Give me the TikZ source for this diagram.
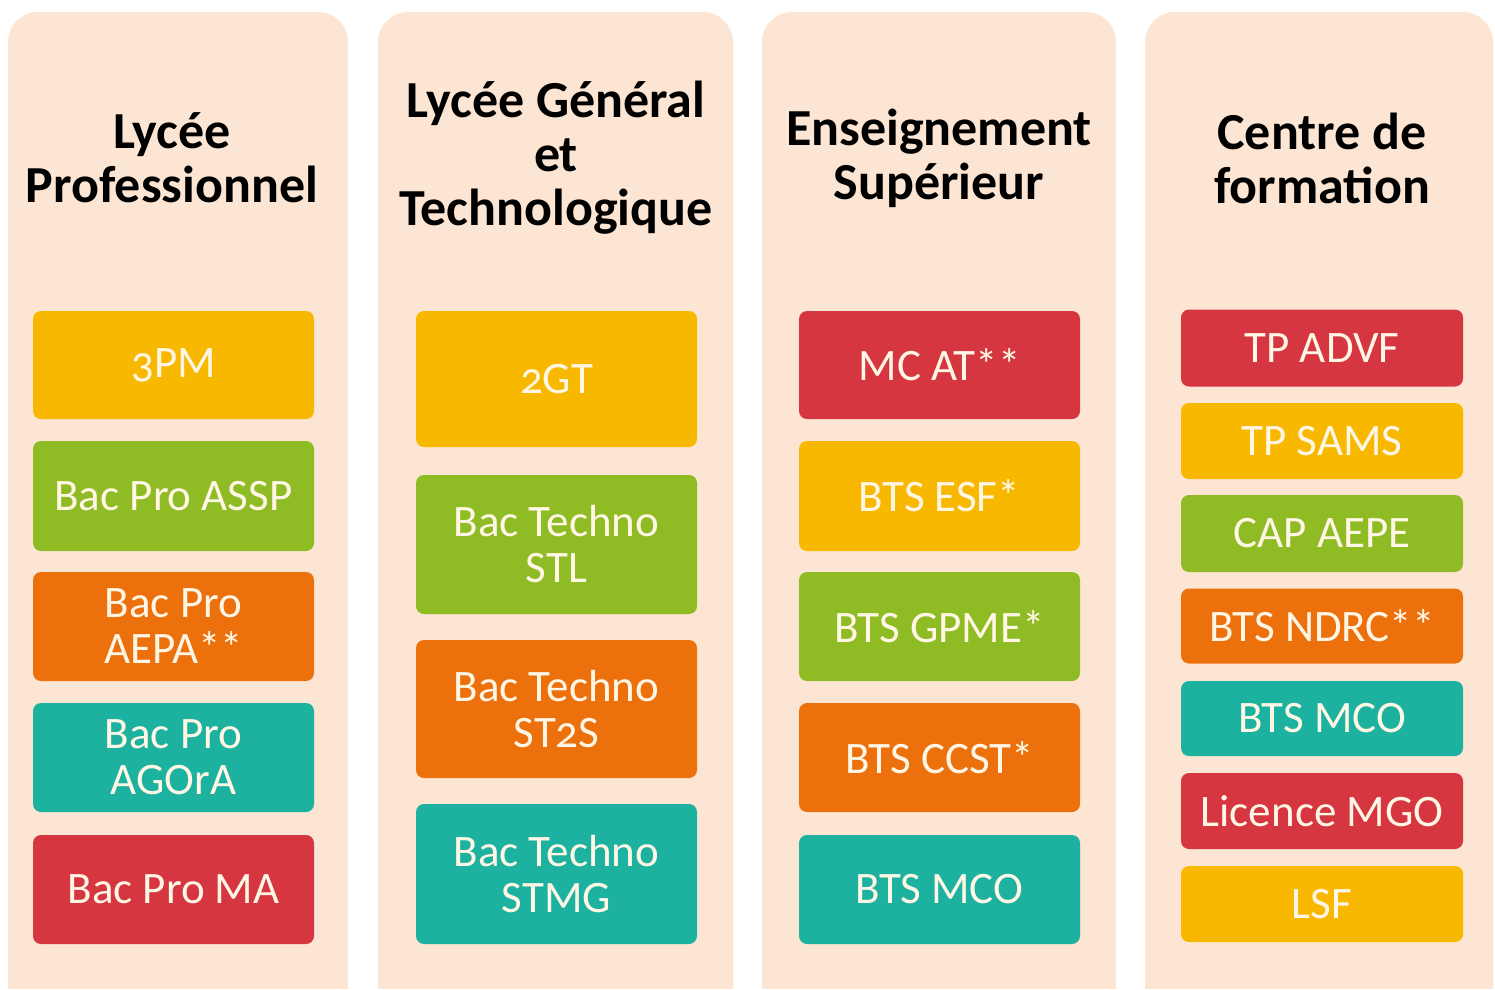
\documentclass[tikz,border=0pt]{standalone}
\usepackage{fontspec}
\setmainfont{Carlito}
\newfontfamily\itemfont[Numbers=OldStyle]{Carlito}
\definecolor{panel}{HTML}{FCE6D3}
\definecolor{cyel}{HTML}{F8B800}
\definecolor{cgrn}{HTML}{8FBC24}
\definecolor{corg}{HTML}{EC710D}
\definecolor{ctea}{HTML}{1CB29F}
\definecolor{cred}{HTML}{D6363F}
\definecolor{ctxt}{HTML}{FFF6E6}
\tikzset{
  panelbox/.style={fill=panel, draw=none, rounded corners=30pt},
  item/.style={draw=none, rounded corners=8pt, text=ctxt, align=center,
    font=\itemfont\fontsize{45}{46}\selectfont, inner sep=0pt},
  head/.style={align=center, font=\bfseries\fontsize{52}{54}\selectfont, text=black}
}
\begin{document}
\begin{tikzpicture}[x=1pt,y=-1pt]
\useasboundingbox (0,0) rectangle (1495,989);
\fill[white] (0,0) rectangle (1495,989);
% panels
\path[panelbox] (8,12) rectangle (348,1020);
\path[panelbox] (378,12) rectangle (733,1020);
\path[panelbox] (762,12) rectangle (1116,1020);
\path[panelbox] (1145,12) rectangle (1493,1020);
\fill[white] (0,989) rectangle (1495,1030);
% headings
\node[head] (h1) at (172,158) {Lycée\\Professionnel};
\node[head] (h2) at (556,158) {Lycée Général\\et\\Technologique};
\node[head] (h3) at (939,158) {Enseignement\\Supérieur};
\node[head] (h4) at (1322,158) {Centre de\\formation};
% column 1
\node[item, fill=cyel, minimum width=281pt, minimum height=108pt] (a1) at (173.5,365) {3PM};
\node[item, fill=cgrn, minimum width=281pt, minimum height=110pt] (a2) at (173.5,496) {Bac Pro ASSP};
\node[item, fill=corg, minimum width=281pt, minimum height=109pt] (a3) at (173.5,626.5) {Bac Pro\\AEPA**};
\node[item, fill=ctea, minimum width=281pt, minimum height=109pt] (a4) at (173.5,757.5) {Bac Pro\\AGOrA};
\node[item, fill=cred, minimum width=281pt, minimum height=109pt] (a5) at (173.5,889.5) {Bac Pro MA};
% column 2
\node[item, fill=cyel, minimum width=281pt, minimum height=136pt] (b1) at (556.5,379) {2GT};
\node[item, fill=cgrn, minimum width=281pt, minimum height=139pt] (b2) at (556.5,544.5) {Bac Techno\\STL};
\node[item, fill=corg, minimum width=281pt, minimum height=138pt] (b3) at (556.5,709) {Bac Techno\\ST2S};
\node[item, fill=ctea, minimum width=281pt, minimum height=140pt] (b4) at (556.5,874) {Bac Techno\\STMG};
% column 3
\node[item, fill=cred, minimum width=281pt, minimum height=108pt] (c1) at (939.5,365) {MC AT**};
\node[item, fill=cyel, minimum width=281pt, minimum height=110pt] (c2) at (939.5,496) {BTS ESF*};
\node[item, fill=cgrn, minimum width=281pt, minimum height=109pt] (c3) at (939.5,626.5) {BTS GPME*};
\node[item, fill=corg, minimum width=281pt, minimum height=109pt] (c4) at (939.5,757.5) {BTS CCST*};
\node[item, fill=ctea, minimum width=281pt, minimum height=109pt] (c5) at (939.5,889.5) {BTS MCO};
% column 4
\node[item, fill=cred, minimum width=282pt, minimum height=77pt] (d1) at (1322,348) {TP ADVF};
\node[item, fill=cyel, minimum width=282pt, minimum height=76pt] (d2) at (1322,441) {TP SAMS};
\node[item, fill=cgrn, minimum width=282pt, minimum height=77pt] (d3) at (1322,533.5) {CAP AEPE};
\node[item, fill=corg, minimum width=282pt, minimum height=75pt] (d4) at (1322,626) {BTS NDRC**};
\node[item, fill=ctea, minimum width=282pt, minimum height=75pt] (d5) at (1322,718.5) {BTS MCO};
\node[item, fill=cred, minimum width=282pt, minimum height=76pt] (d6) at (1322,811) {Licence MGO};
\node[item, fill=cyel, minimum width=282pt, minimum height=76pt] (d7) at (1322,904) {LSF};
\end{tikzpicture}
\end{document}
